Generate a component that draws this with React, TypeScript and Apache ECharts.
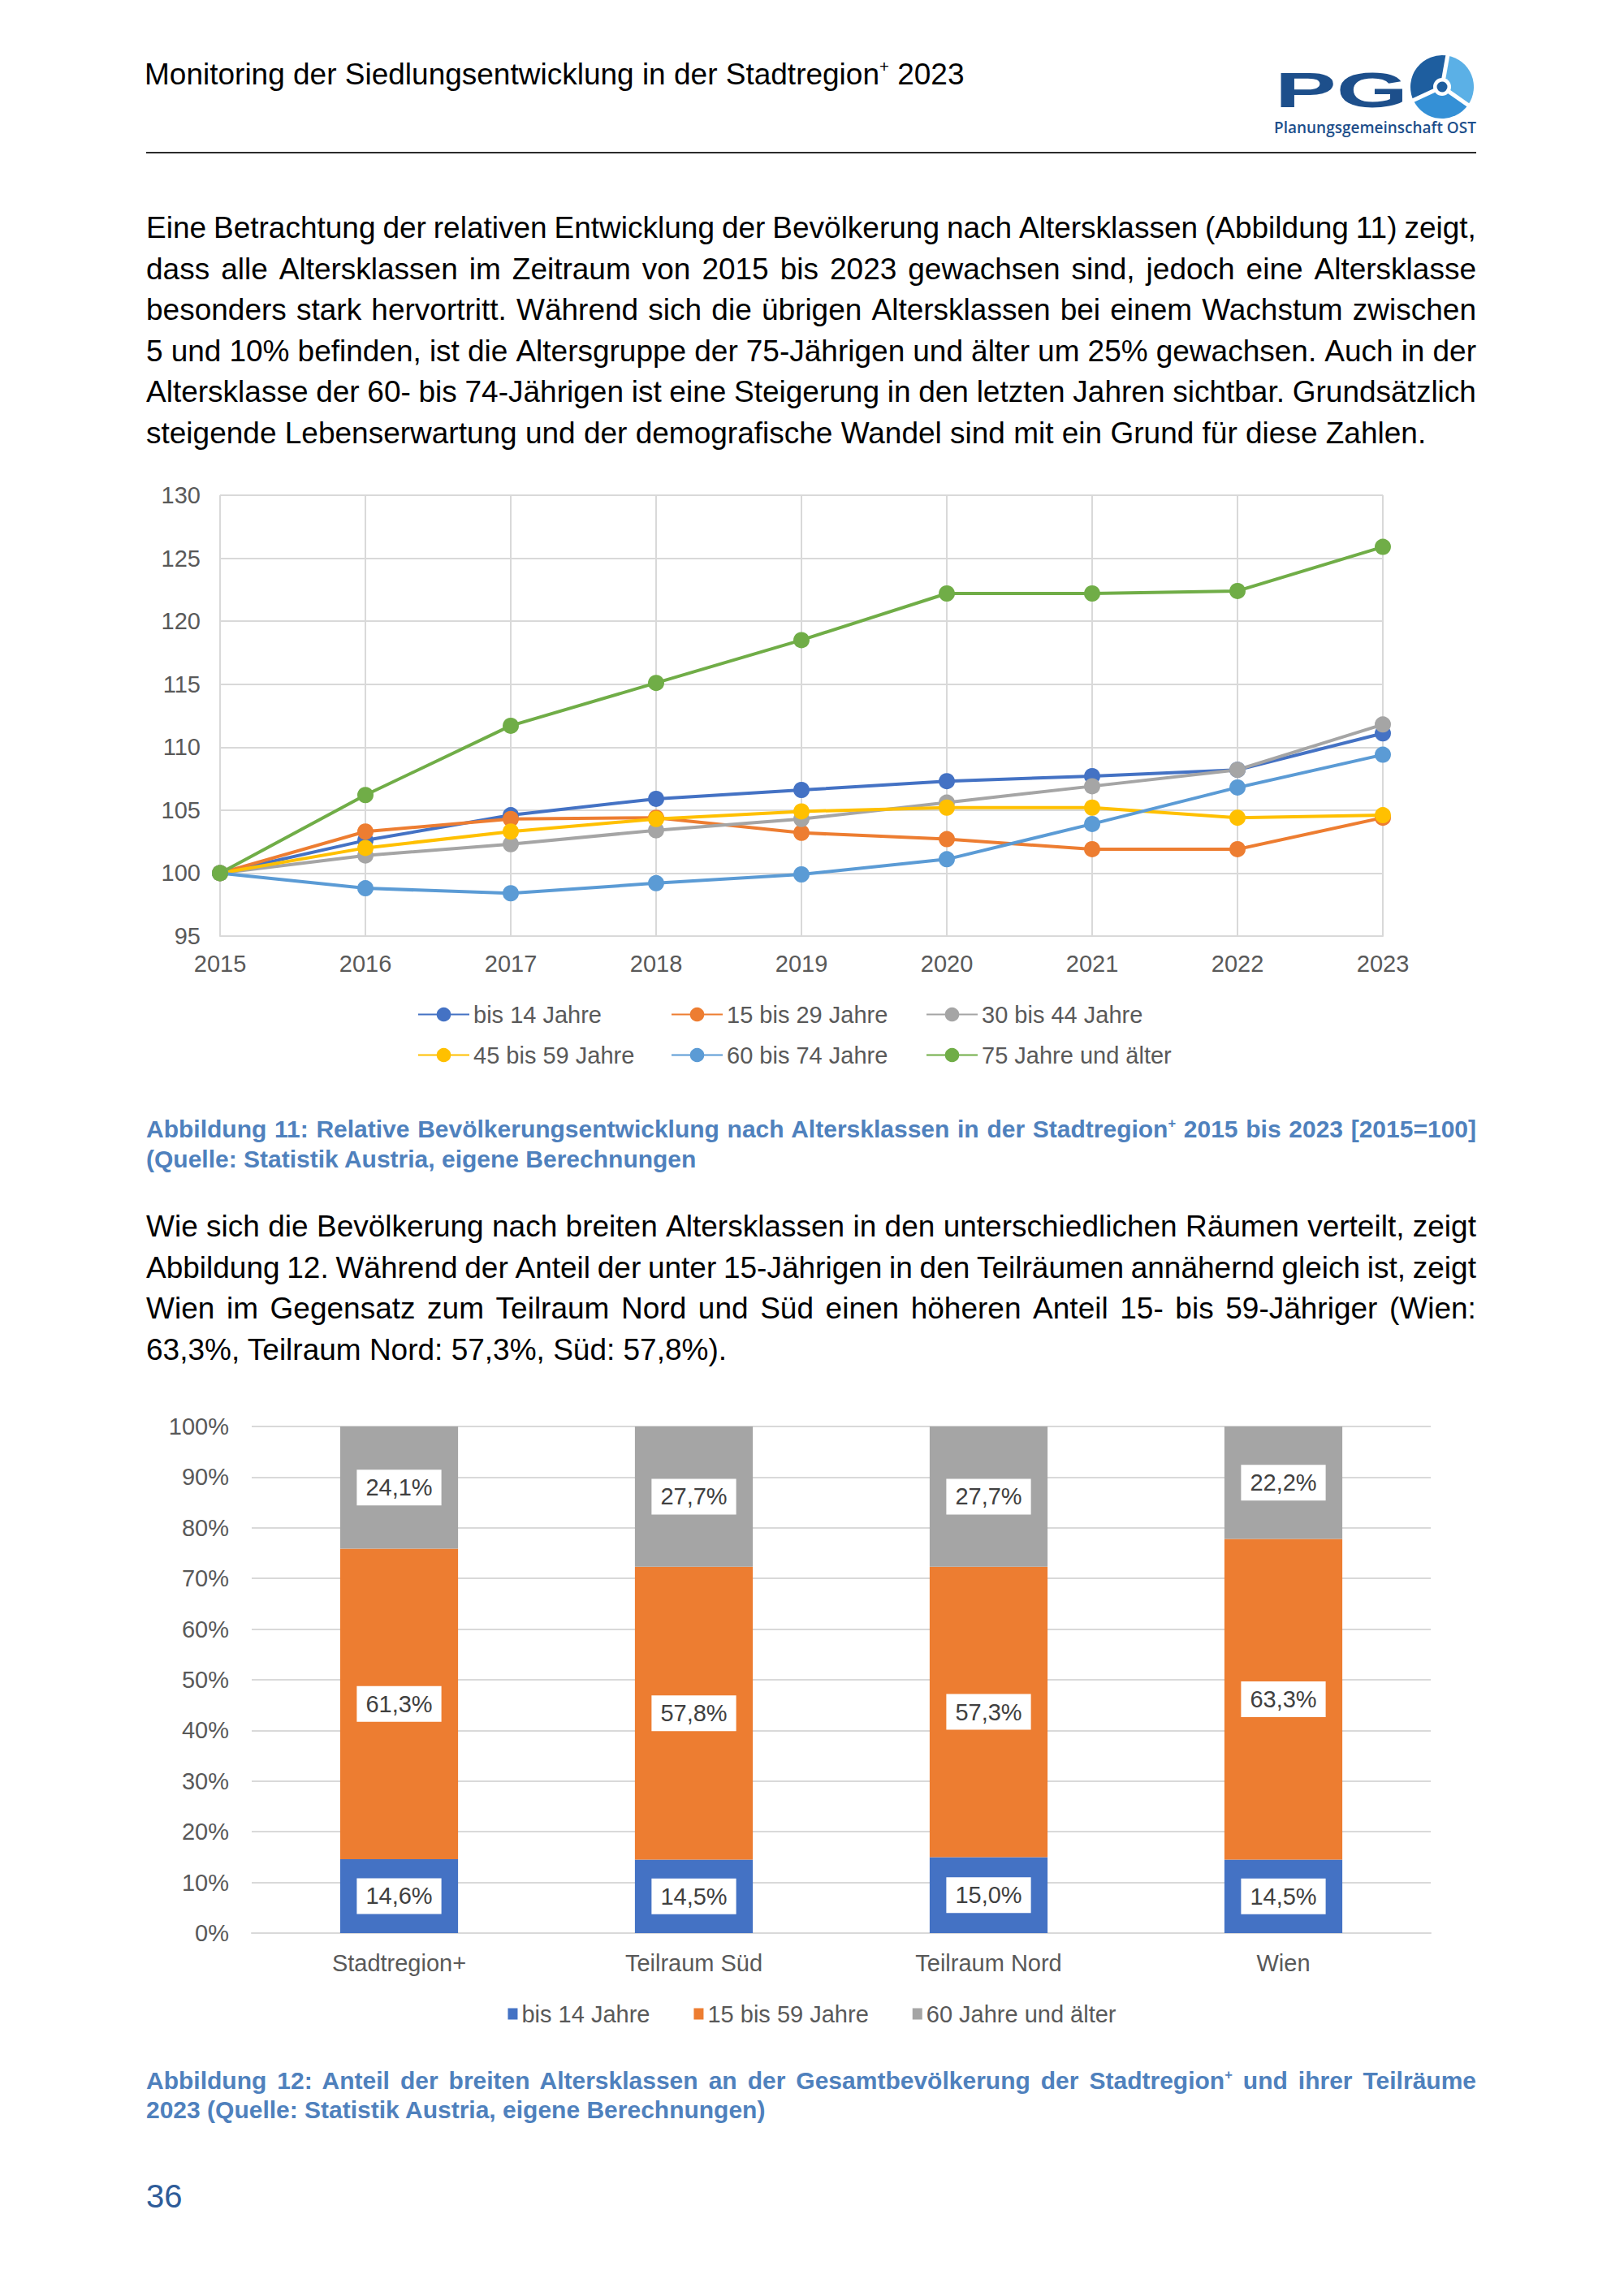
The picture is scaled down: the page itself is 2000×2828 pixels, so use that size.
import React, { useEffect, useRef } from "react";
import * as echarts from "echarts";

// ---------- Data: chart 1 (Abbildung 11) ----------
const years = ["2015", "2016", "2017", "2018", "2019", "2020", "2021", "2022", "2023"];
const lineNames = [
  "bis 14 Jahre",
  "15 bis 29 Jahre",
  "30 bis 44 Jahre",
  "45 bis 59 Jahre",
  "60 bis 74 Jahre",
  "75 Jahre und älter",
];
const bis14 = [100, 102.6, 104.6, 105.9, 106.6, 107.3, 107.7, 108.2, 111.1];
const j15bis29 = [100, 103.3, 104.3, 104.4, 103.2, 102.7, 101.9, 101.9, 104.4];
const j30bis44 = [100, 101.4, 102.3, 103.4, 104.3, 105.6, 106.9, 108.2, 111.8];
const j45bis59 = [100, 102.0, 103.3, 104.3, 104.9, 105.2, 105.2, 104.4, 104.6];
const j60bis74 = [100, 98.8, 98.4, 99.2, 99.9, 101.1, 103.9, 106.8, 109.4];
const j75plus = [100, 106.2, 111.7, 115.1, 118.5, 122.2, 122.2, 122.4, 125.9];
const lineValues = [bis14, j15bis29, j30bis44, j45bis59, j60bis74, j75plus];
const lineColors = ["#4472C4", "#ED7D31", "#A5A5A5", "#FFC000", "#5B9BD5", "#70AD47"];
const yMin1 = 95;
const yMax1 = 130;
const yStep1 = 5;

// ---------- Data: chart 2 (Abbildung 12) ----------
const regions = ["Stadtregion+", "Teilraum Süd", "Teilraum Nord", "Wien"];
const barNames = ["bis 14 Jahre", "15 bis 59 Jahre", "60 Jahre und älter"];
const share0to14 = [14.6, 14.5, 15.0, 14.5];
const share15to59 = [61.3, 57.8, 57.3, 63.3];
const share60plus = [24.1, 27.7, 27.7, 22.2];
const barValues = [share0to14, share15to59, share60plus];
const barColors = ["#4472C4", "#ED7D31", "#A5A5A5"];

// ---------- Texts ----------
const para1 = [
  "Eine Betrachtung der relativen Entwicklung der Bevölkerung nach Altersklassen (Abbildung 11) zeigt,",
  "dass alle Altersklassen im Zeitraum von 2015 bis 2023 gewachsen sind, jedoch eine Altersklasse",
  "besonders stark hervortritt. Während sich die übrigen Altersklassen bei einem Wachstum zwischen",
  "5 und 10% befinden, ist die Altersgruppe der 75-Jährigen und älter um 25% gewachsen. Auch in der",
  "Altersklasse der 60- bis 74-Jährigen ist eine Steigerung in den letzten Jahren sichtbar. Grundsätzlich",
  "steigende Lebenserwartung und der demografische Wandel sind mit ein Grund für diese Zahlen.",
];
const para2 = [
  "Wie sich die Bevölkerung nach breiten Altersklassen in den unterschiedlichen Räumen verteilt, zeigt",
  "Abbildung 12. Während der Anteil der unter 15-Jährigen in den Teilräumen annähernd gleich ist, zeigt",
  "Wien im Gegensatz zum Teilraum Nord und Süd einen höheren Anteil 15- bis 59-Jähriger (Wien:",
  "63,3%, Teilraum Nord: 57,3%, Süd: 57,8%).",
];

const FONT = "'Liberation Sans', Arial, Helvetica, sans-serif";
const AXIS_TXT = "#595959";
const GRID = "#D9D9D9";
const CAPTION = "#4F81BD";

const fmtPct = (v: number) => v.toFixed(1).replace(".", ",") + "%";

function Sup() {
  return (
    <span style={{ fontSize: "0.55em", position: "relative", top: "-0.75em", lineHeight: 0 }}>+</span>
  );
}

// Paragraph whose non-final lines are spread edge to edge (word-level flex, never wraps)
function Paragraph({ lines, top, lh, size, color }: any) {
  return (
    <div
      style={{
        position: "absolute",
        left: 180,
        top,
        width: 1638,
        fontSize: size,
        lineHeight: lh + "px",
        color,
        fontFamily: FONT,
      }}
    >
      {lines.map((l: string, i: number) =>
        i < lines.length - 1 ? (
          <div key={i} style={{ display: "flex", justifyContent: "space-between", height: lh, whiteSpace: "nowrap" }}>
            {l.split(" ").map((w, j) => (
              <span key={j}>{w}</span>
            ))}
          </div>
        ) : (
          <div key={i} style={{ height: lh, whiteSpace: "nowrap" }}>
            {l}
          </div>
        )
      )}
    </div>
  );
}

function JLines({ lines, top, lh, size, color, weight }: any) {
  return (
    <div
      style={{
        position: "absolute",
        left: 180,
        top,
        width: 1638,
        fontSize: size,
        lineHeight: lh + "px",
        color,
        fontWeight: weight || "normal",
        fontFamily: FONT,
      }}
    >
      {lines.map((l: any, i: number) => (
        <div
          key={i}
          style={{
            textAlign: i < lines.length - 1 ? "justify" : "left",
            textAlignLast: i < lines.length - 1 ? "justify" : "left",
            height: lh,
          }}
        >
          {l}
        </div>
      ))}
    </div>
  );
}

function Logo() {
  const cx = 216;
  const cy = 47;
  const r = 39;
  const pt = (a: number, rr: number) => [cx + rr * Math.cos((a * Math.PI) / 180), cy + rr * Math.sin((a * Math.PI) / 180)];
  const sector = (a0: number, a1: number) => {
    const [x0, y0] = pt(a0, r);
    const [x1, y1] = pt(a1, r);
    return `M${cx},${cy} L${x0},${y0} A${r},${r} 0 0 1 ${x1},${y1} Z`;
  };
  const spokes = [-80, 35, 155];
  return (
    <svg style={{ position: "absolute", left: 1560, top: 60 }} width={270} height={115} viewBox="0 0 270 115">
      <text
        x={10}
        y={72}
        fontFamily={FONT}
        fontWeight="bold"
        fontSize={62}
        fill="#1D4F8B"
        textLength={164}
        lengthAdjust="spacingAndGlyphs"
      >
        PG
      </text>
      <path d={sector(-80, 35)} fill="#5BB0E6" />
      <path d={sector(35, 155)} fill="#3490D6" />
      <path d={sector(155, 280)} fill="#1E5E9F" />
      {spokes.map((a, i) => {
        const [x, y] = pt(a, r + 2);
        return <line key={i} x1={cx} y1={cy} x2={x} y2={y} stroke="#fff" strokeWidth={5} />;
      })}
      <circle cx={cx} cy={cy} r={11} fill="#fff" />
      <circle cx={cx} cy={cy} r={6.5} fill="#1E5E9F" />
      <text
        x={9}
        y={104}
        fontFamily="'Open Sans', 'Noto Sans', sans-serif"
        fontWeight={600}
        fontSize={19}
        fill="#1D4F8B"
        textLength={249}
        lengthAdjust="spacingAndGlyphs"
      >
        Planungsgemeinschaft OST
      </text>
    </svg>
  );
}

export default function App() {
  const ref1 = useRef<HTMLDivElement>(null);
  const ref2 = useRef<HTMLDivElement>(null);

  useEffect(() => {
    document.body.style.margin = "0";
    const c1 = echarts.init(ref1.current as HTMLDivElement, null, { renderer: "svg" });
    const c2 = echarts.init(ref2.current as HTMLDivElement, null, { renderer: "svg" });

    const txt = { fontFamily: FONT, fontSize: 29, color: AXIS_TXT };
    const legendPos = [
      [514, 690],
      [826, 690],
      [1140, 690],
      [514, 740],
      [826, 740],
      [1140, 740],
    ];

    c1.setOption({
      animation: false,
      grid: { left: 271, top: 50, width: 1432, height: 543, containLabel: false },
      legend: lineNames.map((n, i) => ({
        data: [n],
        left: legendPos[i][0],
        top: legendPos[i][1] - 15,
        padding: 0,
        itemWidth: 63,
        itemHeight: 22,
        selectedMode: false,
        textStyle: { ...txt },
      })),
      xAxis: {
        type: "category",
        data: years,
        boundaryGap: false,
        axisLine: { show: true, lineStyle: { color: GRID, width: 2 } },
        axisTick: { show: false },
        splitLine: { show: true, lineStyle: { color: GRID, width: 2 } },
        axisLabel: { ...txt, margin: 19 },
      },
      yAxis: {
        type: "value",
        min: yMin1,
        max: yMax1,
        interval: yStep1,
        axisLine: { show: false },
        axisTick: { show: false },
        splitLine: { show: true, lineStyle: { color: GRID, width: 2 } },
        axisLabel: { ...txt, margin: 24 },
      },
      series: lineNames.map((n, i) => ({
        name: n,
        type: "line",
        data: lineValues[i],
        symbol: "circle",
        symbolSize: 20,
        showSymbol: true,
        color: lineColors[i],
        lineStyle: { width: 4, color: lineColors[i] },
        itemStyle: { color: lineColors[i] },
      })),
    });

    c2.setOption({
      animation: false,
      grid: { left: 310, top: 37, width: 1452, height: 624, containLabel: false },
      legend: {
        data: barNames,
        left: "center",
        top: 746,
        padding: 0,
        icon: "rect",
        itemWidth: 12,
        itemHeight: 14,
        itemGap: 54,
        selectedMode: false,
        textStyle: { ...txt },
      },
      xAxis: {
        type: "category",
        data: regions,
        axisLine: { show: true, lineStyle: { color: GRID, width: 2 } },
        axisTick: { show: false },
        axisLabel: { ...txt, margin: 22 },
      },
      yAxis: {
        type: "value",
        min: 0,
        max: 100,
        interval: 10,
        axisLine: { show: false },
        axisTick: { show: false },
        splitLine: { show: true, lineStyle: { color: GRID, width: 2 } },
        axisLabel: { ...txt, margin: 28, formatter: "{value}%" },
      },
      series: barNames.map((n, i) => ({
        name: n,
        type: "bar",
        stack: "total",
        data: barValues[i],
        barWidth: "40%",
        itemStyle: { color: barColors[i] },
        label: {
          show: true,
          position: "inside",
          formatter: (p: any) => fmtPct(p.value),
          backgroundColor: "#FFFFFF",
          padding: [7, 11, 7, 11],
          lineHeight: 30,
          fontFamily: FONT,
          fontSize: 29,
          color: "#404040",
        },
      })),
    });

    return () => {
      c1.dispose();
      c2.dispose();
    };
  }, []);

  return (
    <div
      style={{
        position: "relative",
        width: 2000,
        height: 2828,
        background: "#fff",
        overflow: "hidden",
        fontFamily: FONT,
      }}
    >
      <div
        style={{
          position: "absolute",
          left: 178,
          top: 67,
          fontSize: 37,
          lineHeight: "50px",
          color: "#000",
          whiteSpace: "nowrap",
        }}
      >
        Monitoring der Siedlungsentwicklung in der Stadtregion<Sup /> 2023
      </div>
      <Logo />
      <div style={{ position: "absolute", left: 180, top: 187, width: 1638, height: 2, background: "#2b2b2b" }} />

      <Paragraph lines={para1} top={256} lh={50.5} size={37} color="#000" />

      <div ref={ref1} style={{ position: "absolute", left: 0, top: 560, width: 2000, height: 780 }} />

      <JLines
        lines={[
          <span key="a">
            Abbildung 11: Relative Bevölkerungsentwicklung nach Altersklassen in der Stadtregion<Sup /> 2015 bis 2023 [2015=100]
          </span>,
          "(Quelle: Statistik Austria, eigene Berechnungen",
        ]}
        top={1372}
        lh={37}
        size={30}
        color={CAPTION}
        weight="bold"
      />

      <Paragraph lines={para2} top={1486} lh={50.5} size={37} color="#000" />

      <div ref={ref2} style={{ position: "absolute", left: 0, top: 1720, width: 2000, height: 800 }} />

      <JLines
        lines={[
          <span key="b">
            Abbildung 12: Anteil der breiten Altersklassen an der Gesamtbevölkerung der Stadtregion<Sup /> und ihrer Teilräume
          </span>,
          "2023 (Quelle: Statistik Austria, eigene Berechnungen)",
        ]}
        top={2545}
        lh={36}
        size={30}
        color={CAPTION}
        weight="bold"
      />

      <div
        style={{
          position: "absolute",
          left: 180,
          top: 2680,
          fontSize: 40,
          lineHeight: "50px",
          color: "#2E5C99",
        }}
      >
        36
      </div>
    </div>
  );
}
